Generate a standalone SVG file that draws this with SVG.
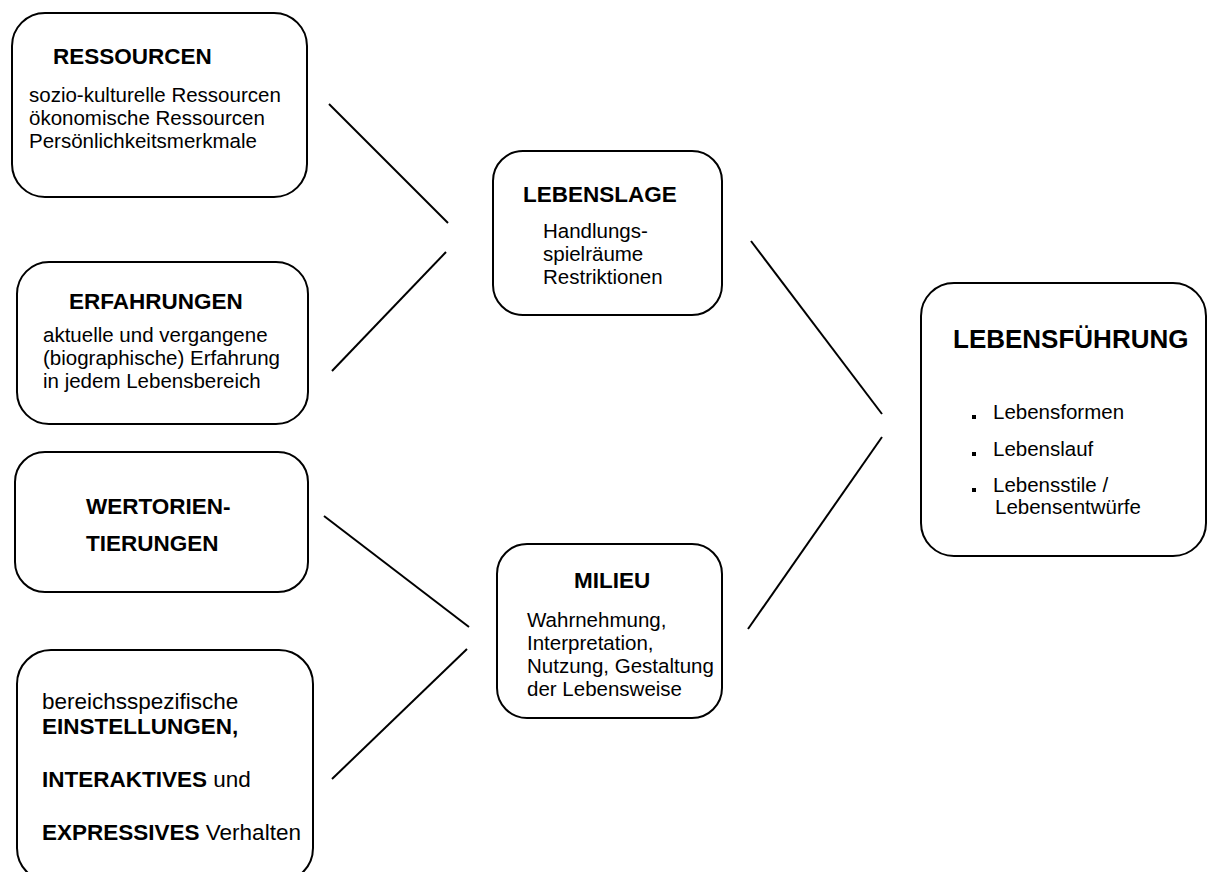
<svg xmlns="http://www.w3.org/2000/svg" width="1208" height="872" viewBox="0 0 1208 872">
<style>
.box{fill:#fff;stroke:#000;stroke-width:2}
.t{font-family:"Liberation Sans",Arial,sans-serif;fill:#000}
.h{font-size:22.5px;font-weight:bold}
.h2{font-size:26px;font-weight:bold}
.b{font-size:20.5px}
.b4{font-size:22.5px}
.bold{font-weight:bold}
.c line{stroke:#000;stroke-width:2}
</style>
<rect width="1208" height="872" fill="#fff"/>
<g class="c" id="connectors">
<line x1="329" y1="104" x2="448" y2="223"/>
<line x1="332" y1="371" x2="446" y2="252"/>
<line x1="324" y1="516" x2="469" y2="627"/>
<line x1="332" y1="779" x2="467" y2="649"/>
<line x1="751" y1="241" x2="882" y2="414"/>
<line x1="882" y1="437" x2="748" y2="629"/>
</g>
<g id="ressourcen">
<rect class="box" x="12" y="13" width="295" height="184" rx="33"/>
<text class="t h" x="53" y="64">RESSOURCEN</text>
<text class="t b" x="29" y="102">sozio-kulturelle Ressourcen</text>
<text class="t b" x="29" y="125">ökonomische Ressourcen</text>
<text class="t b" x="29" y="148">Persönlichkeitsmerkmale</text>
</g>
<g id="erfahrungen">
<rect class="box" x="17" y="262" width="291" height="162" rx="32"/>
<text class="t h" x="69" y="309">ERFAHRUNGEN</text>
<text class="t b" x="43" y="342">aktuelle und vergangene</text>
<text class="t b" x="43" y="365">(biographische) Erfahrung</text>
<text class="t b" x="43" y="388">in jedem Lebensbereich</text>
</g>
<g id="wertorientierungen">
<rect class="box" x="15" y="452" width="293" height="140" rx="30"/>
<text class="t h" x="86" y="514">WERTORIEN-</text>
<text class="t h" x="86" y="551">TIERUNGEN</text>
</g>
<g id="einstellungen">
<rect class="box" x="17" y="650" width="296" height="232" rx="34"/>
<text class="t b4" x="42" y="709">bereichsspezifische</text>
<text class="t b4 bold" x="42" y="734">EINSTELLUNGEN,</text>
<text class="t b4" x="42" y="787"><tspan class="bold">INTERAKTIVES</tspan> und</text>
<text class="t b4" x="42" y="840"><tspan class="bold">EXPRESSIVES</tspan> Verhalten</text>
</g>
<g id="lebenslage">
<rect class="box" x="493" y="151" width="229" height="164" rx="30"/>
<text class="t h" x="523" y="202">LEBENSLAGE</text>
<text class="t b" x="543" y="238">Handlungs-</text>
<text class="t b" x="543" y="261">spielräume</text>
<text class="t b" x="543" y="284">Restriktionen</text>
</g>
<g id="milieu">
<rect class="box" x="497" y="544" width="225" height="174" rx="30"/>
<text class="t h" x="574" y="588">MILIEU</text>
<text class="t b" x="527" y="627">Wahrnehmung,</text>
<text class="t b" x="527" y="650">Interpretation,</text>
<text class="t b" x="527" y="673">Nutzung, Gestaltung</text>
<text class="t b" x="527" y="696">der Lebensweise</text>
</g>
<g id="lebensfuehrung">
<rect class="box" x="921" y="283" width="285" height="273" rx="33"/>
<text class="t h2" x="953" y="348">LEBENSFÜHRUNG</text>
<rect x="972" y="415" width="4" height="4" fill="#000"/>
<text class="t b" x="993" y="419">Lebensformen</text>
<rect x="972" y="452" width="4" height="4" fill="#000"/>
<text class="t b" x="993" y="456">Lebenslauf</text>
<rect x="972" y="488" width="4" height="4" fill="#000"/>
<text class="t b" x="993" y="492">Lebensstile /</text>
<text class="t b" x="995" y="514">Lebensentwürfe</text>
</g>
</svg>
